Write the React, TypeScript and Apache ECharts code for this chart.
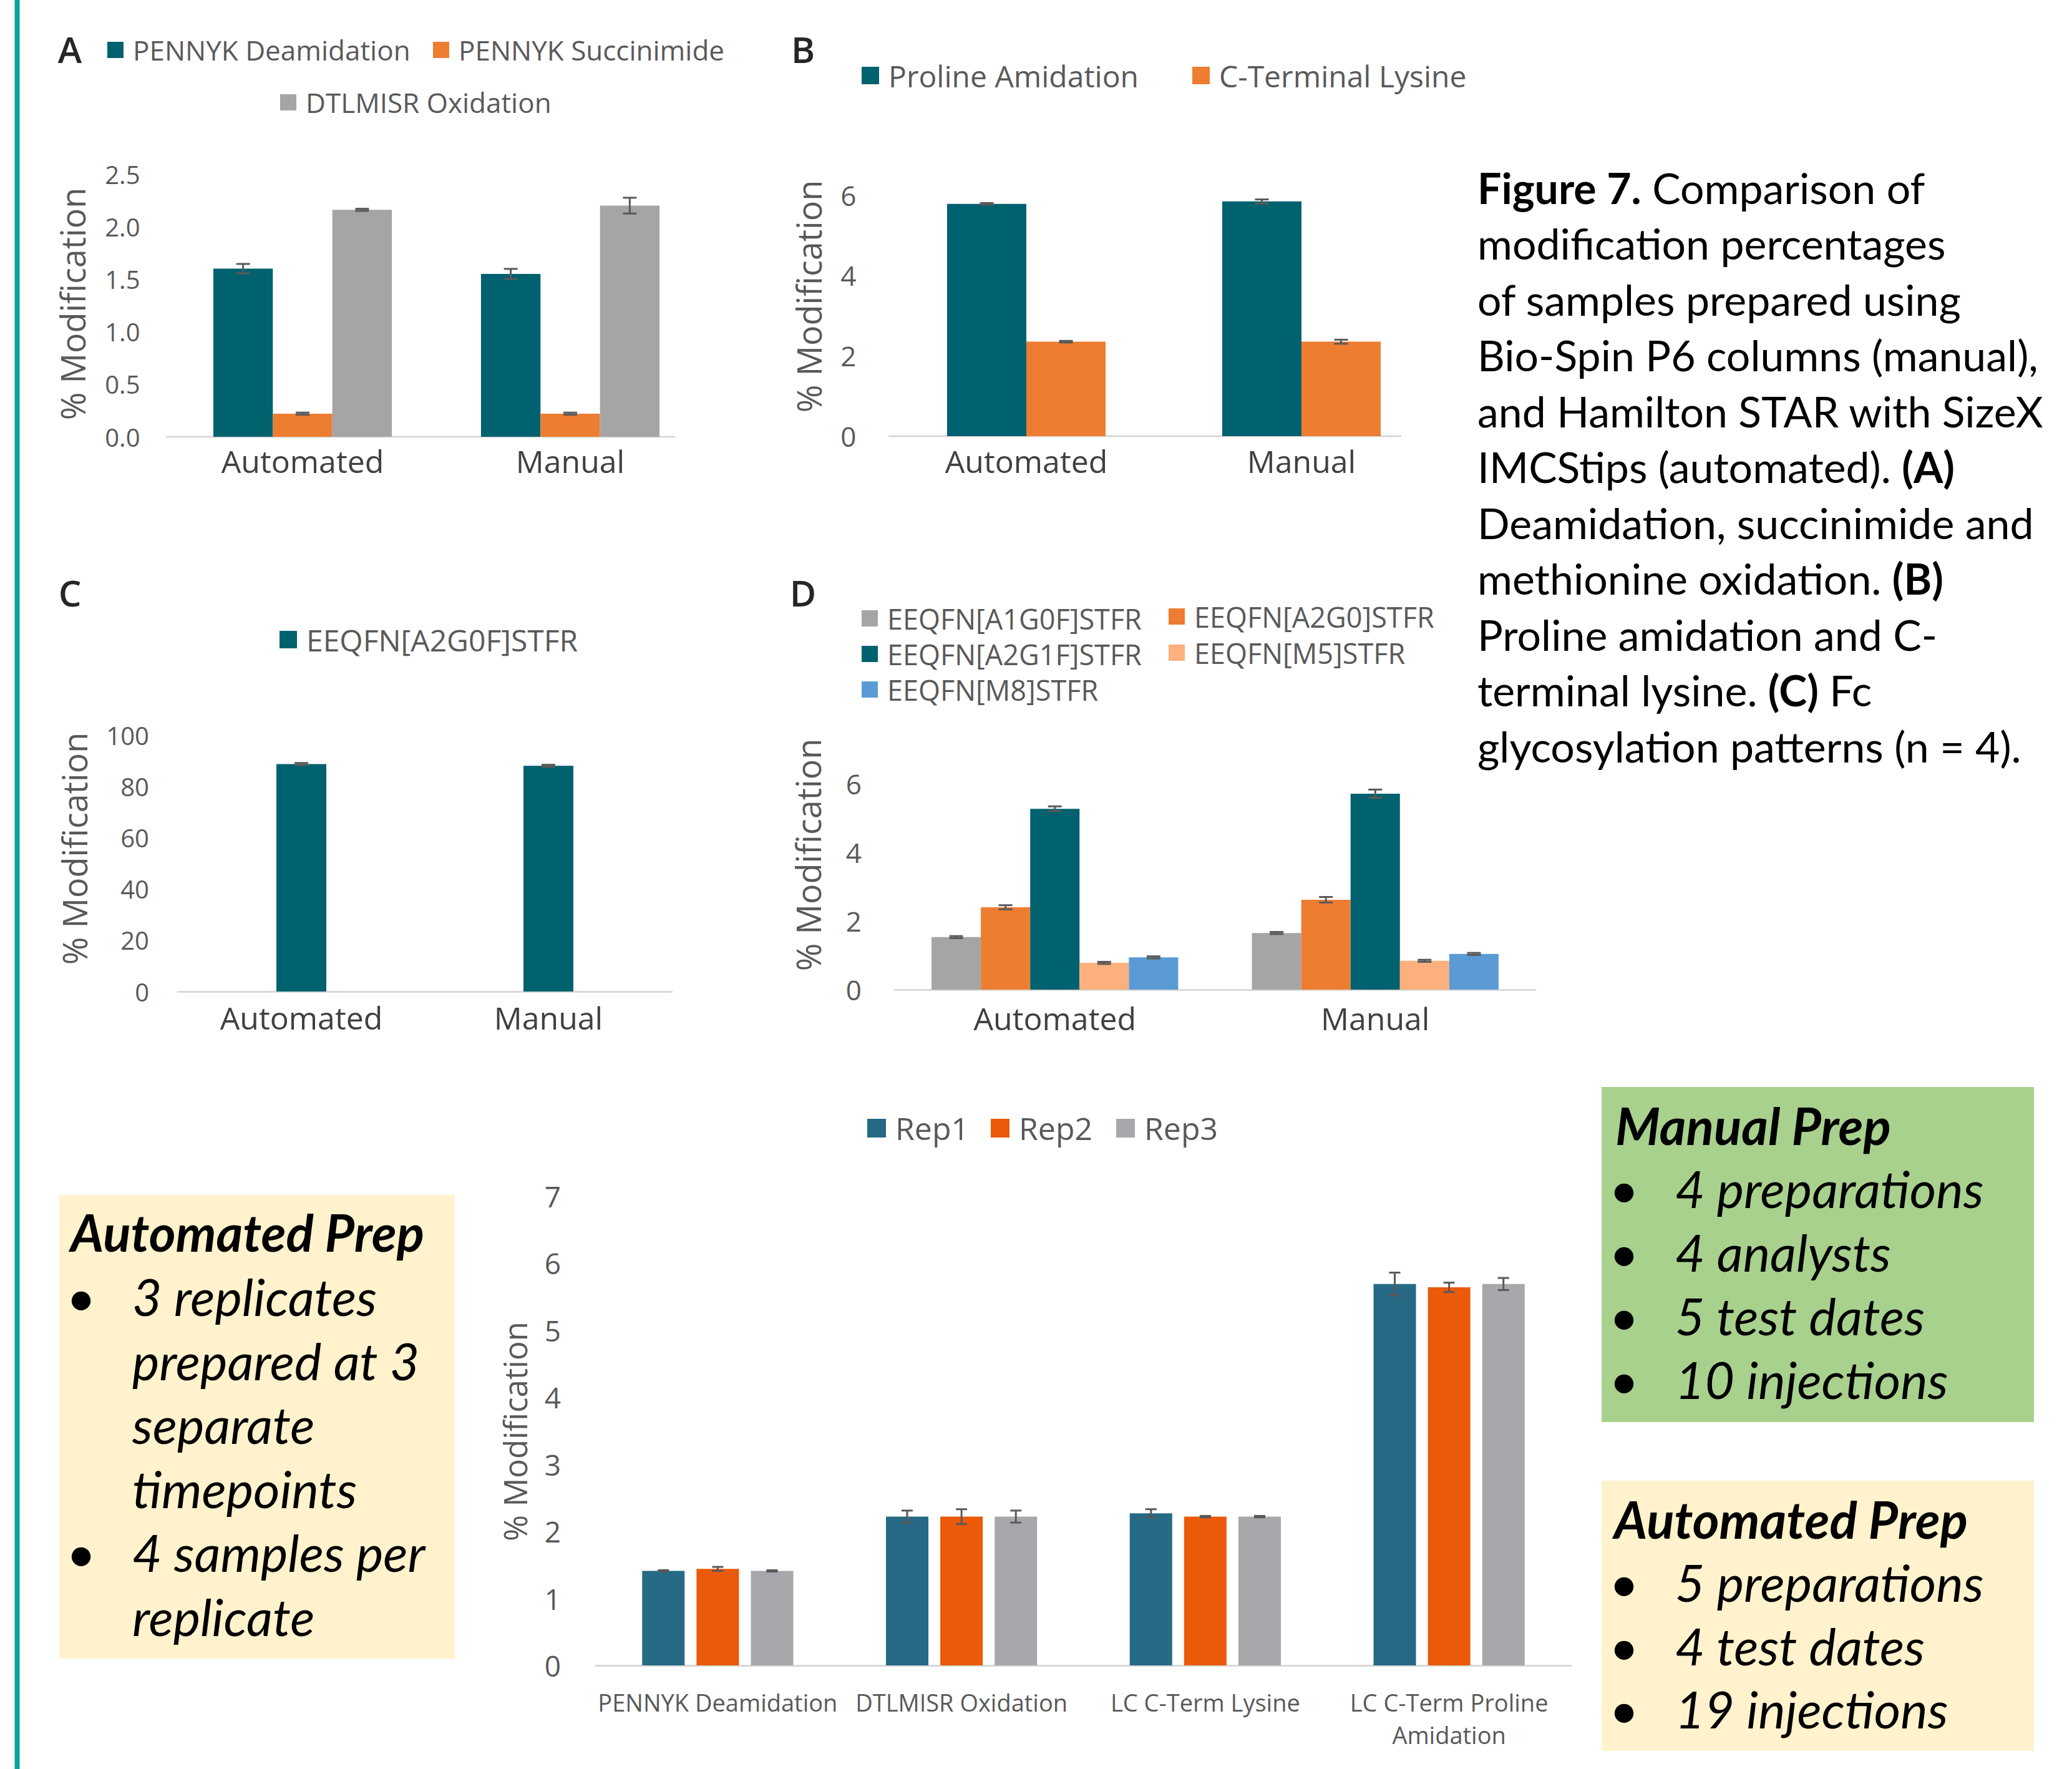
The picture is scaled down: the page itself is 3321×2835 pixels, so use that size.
import React, { useEffect, useRef } from "react";
import * as echarts from "echarts";

const W = 3321;
const H = 2835;
const FONT = "'Open Sans', 'Noto Sans', sans-serif";
const TEXT_FONT = "Lato, 'Open Sans', sans-serif";

// ---- shared categories ----
const groups = ["Automated", "Manual"];

// ---- A: deamidation, succinimide, oxidation ----
const namesA = ["PENNYK Deamidation", "PENNYK Succinimide", "DTLMISR Oxidation"];
const colorsA = ["#00616f", "#ed7d31", "#a5a5a5"];
const meansA = [
  [1.6, 1.55],
  [0.22, 0.22],
  [2.16, 2.2],
];
const errsA = [
  [0.045, 0.048],
  [0.01, 0.01],
  [0.01, 0.075],
];

// ---- B: proline amidation, C-terminal lysine ----
const namesB = ["Proline Amidation", "C-Terminal Lysine"];
const colorsB = ["#00616f", "#ed7d31"];
const meansB = [
  [5.78, 5.84],
  [2.35, 2.35],
];
const errsB = [
  [0.02, 0.05],
  [0.02, 0.05],
];

// ---- C: main Fc glycoform ----
const namesC = ["EEQFN[A2G0F]STFR"];
const colorsC = ["#00616f"];
const meansC = [[88.7, 88.0]];
const errsC = [[0.4, 0.4]];

// ---- D: minor Fc glycoforms ----
const namesD = [
  "EEQFN[A1G0F]STFR",
  "EEQFN[A2G0]STFR",
  "EEQFN[A2G1F]STFR",
  "EEQFN[M5]STFR",
  "EEQFN[M8]STFR",
];
const colorsD = ["#a5a5a5", "#ed7d31", "#00616f", "#fbb07e", "#5b9bd5"];
const meansD = [
  [1.53, 1.65],
  [2.4, 2.62],
  [5.27, 5.71],
  [0.78, 0.84],
  [0.94, 1.04],
];
const errsD = [
  [0.03, 0.03],
  [0.06, 0.08],
  [0.07, 0.12],
  [0.03, 0.03],
  [0.03, 0.03],
];

// ---- E: automated replicates per attribute ----
const attributes = [
  "PENNYK Deamidation",
  "DTLMISR Oxidation",
  "LC C-Term Lysine",
  "LC C-Term Proline\nAmidation",
];
const reps = ["Rep1", "Rep2", "Rep3"];
const colorsE = ["#266a85", "#ea5a0a", "#a7a8ac"];
const meansE = [
  [1.41, 2.22, 2.27, 5.69],
  [1.44, 2.22, 2.22, 5.64],
  [1.41, 2.22, 2.22, 5.69],
];
const errsE = [
  [0.01, 0.09, 0.06, 0.17],
  [0.03, 0.11, 0.01, 0.07],
  [0.01, 0.09, 0.01, 0.09],
];

// ---- value axis ranges (max, step) ----
const axisA = [2.5, 0.5];
const axisB = [6, 2];
const axisC = [100, 20];
const axisD = [6, 2];
const axisE = [7, 1];

// ---- caption and note boxes ----
const captionLines = [
  "{b|Figure 7.} Comparison of",
  "modification percentages",
  "of samples prepared using",
  "Bio-Spin P6 columns (manual),",
  "and Hamilton STAR with SizeX",
  "IMCStips (automated). {b|(A)}",
  "Deamidation, succinimide and",
  "methionine oxidation. {b|(B)}",
  "Proline amidation and C-",
  "terminal lysine. {b|(C)} Fc",
  "glycosylation patterns (n = 4).",
];
const leftBoxTitle = "Automated Prep";
const leftBoxLines = [
  { bullet: true, text: "3 replicates" },
  { bullet: false, text: "prepared at 3" },
  { bullet: false, text: "separate" },
  { bullet: false, text: "timepoints" },
  { bullet: true, text: "4 samples per" },
  { bullet: false, text: "replicate" },
];
const manualTitle = "Manual Prep";
const manualLines = ["4 preparations", "4 analysts", "5 test dates", "10 injections"];
const autoTitle = "Automated Prep";
const autoLines = ["5 preparations", "4 test dates", "19 injections"];

type Panel = {
  names: string[];
  colors: string[];
  means: number[][];
  errs: number[][];
  cats: string[];
  range: number[];
  digits: number;
  grid: { left: number; top: number; width: number; height: number };
  catGap: number;
  barGap: number;
  cap: number;
  tickSize: number;
  tickMargin: number;
  catSize: number;
  catMargin: number;
  catColor: string;
  catLineHeight: number;
  axisLine: boolean;
};

const panels: Panel[] = [
  {
    names: namesA, colors: colorsA, means: meansA, errs: errsA, cats: groups, range: axisA, digits: 1,
    grid: { left: 270.5, top: 279, width: 858, height: 421 },
    catGap: 0.333, barGap: 0, cap: 11, tickSize: 40, tickMargin: 46,
    catSize: 50, catMargin: 14, catColor: "#404040", catLineHeight: 50, axisLine: false,
  },
  {
    names: namesB, colors: colorsB, means: meansB, errs: errsB, cats: groups, range: axisB, digits: 0,
    grid: { left: 1424.5, top: 312.5, width: 882, height: 386.5 },
    catGap: 0.424, barGap: 0, cap: 11, tickSize: 44, tickMargin: 52,
    catSize: 50, catMargin: 15, catColor: "#404040", catLineHeight: 50, axisLine: false,
  },
  {
    names: namesC, colors: colorsC, means: meansC, errs: errsC, cats: groups, range: axisC, digits: 0,
    grid: { left: 285, top: 1178, width: 792, height: 411 },
    catGap: 0.798, barGap: 0, cap: 11, tickSize: 40, tickMargin: 46,
    catSize: 50, catMargin: 17, catColor: "#404040", catLineHeight: 50, axisLine: true,
  },
  {
    names: namesD, colors: colorsD, means: meansD, errs: errsD, cats: groups, range: axisD, digits: 0,
    grid: { left: 1434, top: 1256, width: 1027, height: 330 },
    catGap: 0.23, barGap: 0, cap: 11, tickSize: 44, tickMargin: 53,
    catSize: 50, catMargin: 21, catColor: "#404040", catLineHeight: 50, axisLine: true,
  },
  {
    names: reps, colors: colorsE, means: meansE, errs: errsE, cats: attributes, range: axisE, digits: 0,
    grid: { left: 955, top: 1917, width: 1563, height: 752 },
    catGap: 0.38, barGap: 0.28, cap: 9, tickSize: 46, tickMargin: 56,
    catSize: 38, catMargin: 33, catColor: "#595959", catLineHeight: 52, axisLine: true,
  },
];

function errorBars(idx: number, p: Panel) {
  const n = p.means.length;
  const data: number[][] = [];
  p.means.forEach((row, s) => row.forEach((v, c) => data.push([c, v, p.errs[s][c], s])));
  return {
    type: "custom",
    xAxisIndex: idx,
    yAxisIndex: idx,
    z: 10,
    silent: true,
    data,
    encode: { x: 0, y: 1 },
    renderItem: (_params: any, api: any) => {
      const c = api.value(0);
      const v = api.value(1);
      const e = api.value(2);
      const s = api.value(3);
      const band = api.size([1, 0])[0];
      const w = (band * (1 - p.catGap)) / (n + (n - 1) * p.barGap);
      const total = n * w + (n - 1) * p.barGap * w;
      const center = api.coord([c, v])[0];
      const x = center - total / 2 + w / 2 + s * w * (1 + p.barGap);
      const yHi = api.coord([c, v + e])[1];
      const yLo = api.coord([c, v - e])[1];
      const style = { stroke: "#595959", lineWidth: 3 };
      return {
        type: "group",
        children: [
          { type: "line", shape: { x1: x, y1: yHi, x2: x, y2: yLo }, style },
          { type: "line", shape: { x1: x - p.cap, y1: yHi, x2: x + p.cap, y2: yHi }, style },
          { type: "line", shape: { x1: x - p.cap, y1: yLo, x2: x + p.cap, y2: yLo }, style },
        ],
      };
    },
  };
}

// One legend entry, placed so that its label starts at textX
function legendItem(name: string, textX: number, cy: number, fs: number, box: number) {
  const pad = 10;
  return {
    data: [name],
    left: textX - 5 - pad - box,
    top: cy - fs / 2,
    padding: 0,
    itemWidth: box,
    itemHeight: box,
    icon: "rect",
    selectedMode: false,
    textStyle: {
      fontFamily: FONT,
      fontSize: fs,
      color: "#595959",
      lineHeight: fs,
      padding: [0, 0, 0, pad],
    },
  };
}

function text(x: number, y: number, str: string, style: any, rotation = 0) {
  return {
    type: "text",
    x,
    y,
    rotation,
    z: 50,
    silent: true,
    style: { text: str, align: "left", verticalAlign: "middle", fill: "#000", ...style },
  };
}

function buildOption() {
  const grid: any[] = [];
  const xAxis: any[] = [];
  const yAxis: any[] = [];
  const series: any[] = [];

  panels.forEach((p, i) => {
    grid.push({ ...p.grid, containLabel: false });
    xAxis.push({
      type: "category",
      gridIndex: i,
      data: p.cats,
      axisTick: { show: false },
      axisLine: { show: p.axisLine, lineStyle: { color: "#d9d9d9", width: 3 } },
      axisLabel: {
        interval: 0,
        fontFamily: FONT,
        fontSize: p.catSize,
        lineHeight: p.catLineHeight,
        color: p.catColor,
        margin: p.catMargin,
      },
    });
    yAxis.push({
      type: "value",
      gridIndex: i,
      min: 0,
      max: p.range[0],
      interval: p.range[1],
      splitLine: { show: false },
      axisLine: { show: false },
      axisTick: { show: false },
      axisLabel: {
        fontFamily: FONT,
        fontSize: p.tickSize,
        color: "#595959",
        margin: p.tickMargin,
        formatter: (v: number) => v.toFixed(p.digits),
      },
    });
    p.names.forEach((name, s) => {
      series.push({
        type: "bar",
        name,
        xAxisIndex: i,
        yAxisIndex: i,
        data: p.means[s],
        itemStyle: { color: p.colors[s] },
        barGap: `${p.barGap * 100}%`,
        barCategoryGap: `${p.catGap * 100}%`,
        silent: true,
      });
    });
    series.push(errorBars(i, p));
  });

  const legend = [
    legendItem(namesA[0], 213, 80, 44, 26),
    legendItem(namesA[1], 735, 80, 44, 26),
    legendItem(namesA[2], 490, 164, 44, 26),
    legendItem(namesB[0], 1424, 121, 48, 28),
    legendItem(namesB[1], 1954, 121, 48, 28),
    legendItem(namesC[0], 491, 1025, 48, 28),
    legendItem(namesD[0], 1422, 991, 45, 26),
    legendItem(namesD[1], 1914, 988, 45, 26),
    legendItem(namesD[2], 1422, 1048, 45, 26),
    legendItem(namesD[3], 1914, 1046, 45, 26),
    legendItem(namesD[4], 1422, 1105, 45, 26),
    legendItem(reps[0], 1435, 1808, 50, 30),
    legendItem(reps[1], 1633, 1808, 50, 30),
    legendItem(reps[2], 1834, 1808, 50, 30),
  ];

  const letterStyle = { fontFamily: FONT, fontSize: 58, fontWeight: 600, fill: "#262626", align: "center" };
  const yTitle = (x: number, y: number, fs: number) =>
    text(x, y, "% Modification", { fontFamily: FONT, fontSize: fs, fill: "#595959", align: "center" }, Math.PI / 2);

  const captionBase = { fontFamily: TEXT_FONT, fontSize: 68, fill: "#000" };
  const caption = captionLines.map((line, k) =>
    text(2368, 300 + k * 89.5, line, {
      ...captionBase,
      rich: {
        b: { ...captionBase, fontWeight: "bold" },
      },
    })
  );

  const boxFs = 82;
  const titleStyle = { fontFamily: TEXT_FONT, fontSize: boxFs, fontWeight: "bold", fontStyle: "italic" };
  const itemStyle = { fontFamily: TEXT_FONT, fontSize: boxFs, fontStyle: "italic" };
  const bulletStyle = { fontFamily: TEXT_FONT, fontSize: boxFs, align: "center" };

  const leftBox: any[] = [text(113, 1974, leftBoxTitle, titleStyle)];
  leftBoxLines.forEach((l, k) => {
    const y = 2077 + k * 102.6;
    if (l.bullet) leftBox.push(text(130, y, "\u2022", bulletStyle));
    leftBox.push(text(212, y, l.text, itemStyle));
  });

  const manualBox: any[] = [text(2589, 1803, manualTitle, titleStyle)];
  manualLines.forEach((t, k) => {
    const y = 1904 + k * 102;
    manualBox.push(text(2603, y, "\u2022", bulletStyle));
    manualBox.push(text(2685, y, t, itemStyle));
  });

  const autoBox: any[] = [text(2587, 2434, autoTitle, titleStyle)];
  autoLines.forEach((t, k) => {
    const y = 2535 + k * 101.5;
    autoBox.push(text(2603, y, "\u2022", bulletStyle));
    autoBox.push(text(2685, y, t, itemStyle));
  });

  const graphic = [
    { type: "rect", shape: { x: 23.5, y: 0, width: 8, height: H }, style: { fill: "#0aa19c" }, silent: true },
    { type: "rect", shape: { x: 95, y: 1915, width: 634, height: 743 }, style: { fill: "#fff2cc" }, silent: true },
    { type: "rect", shape: { x: 2567, y: 1742, width: 693, height: 537 }, style: { fill: "#a9d18e" }, silent: true },
    { type: "rect", shape: { x: 2567, y: 2373, width: 693, height: 433 }, style: { fill: "#fff2cc" }, silent: true },
    // baselines for panels A and B
    { type: "line", shape: { x1: 266, y1: 700, x2: 1082, y2: 700 }, style: { stroke: "#d9d9d9", lineWidth: 3 }, silent: true },
    { type: "line", shape: { x1: 1424, y1: 699, x2: 2246, y2: 699 }, style: { stroke: "#d9d9d9", lineWidth: 3 }, silent: true },
    text(112, 78, "A", letterStyle),
    text(1287, 78, "B", letterStyle),
    text(112, 949, "C", letterStyle),
    text(1287, 949, "D", letterStyle),
    yTitle(116, 487, 54),
    yTitle(1296, 475, 54),
    yTitle(119, 1360, 54),
    yTitle(1295, 1370, 54),
    yTitle(825, 2294, 51),
    ...caption,
    ...leftBox,
    ...manualBox,
    ...autoBox,
  ];

  return {
    animation: false,
    backgroundColor: "#ffffff",
    grid,
    xAxis,
    yAxis,
    legend,
    series,
    graphic,
  };
}

export default function App() {
  const ref = useRef<HTMLDivElement>(null);
  useEffect(() => {
    if (!ref.current) return;
    const chart = echarts.init(ref.current, undefined, { renderer: "svg", width: W, height: H });
    chart.setOption(buildOption() as any);
    return () => chart.dispose();
  }, []);
  return (
    <div
      ref={ref}
      style={{ position: "fixed", left: 0, top: 0, width: W, height: H, background: "#fff" }}
    />
  );
}
